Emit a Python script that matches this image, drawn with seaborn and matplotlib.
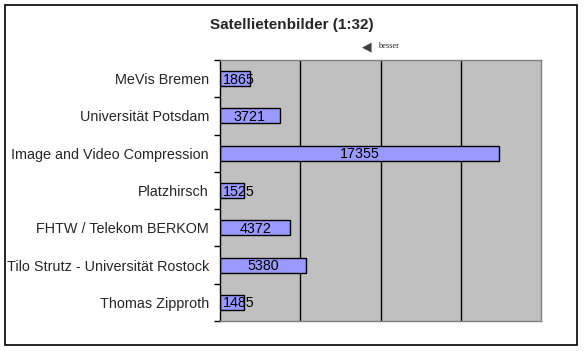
import numpy as np
import pandas as pd
import matplotlib
matplotlib.use("Agg")
import matplotlib.pyplot as plt
import seaborn as sns
from matplotlib.patches import Rectangle

sns.set_theme(style="white")
plt.rcParams['font.family'] = ['Liberation Sans', 'DejaVu Sans']

# Chart data
teams = ["MeVis Bremen", "Universität Potsdam", "Image and Video Compression",
         "Platzhirsch", "FHTW / Telekom BERKOM", "Tilo Strutz - Universität Rostock",
         "Thomas Zipproth"]
values = [1865, 3721, 17355, 1525, 4372, 5380, 1485]
grid_values = [5000, 10000, 15000]
data = pd.DataFrame({"team": teams, "value": values})

fig = plt.figure(figsize=(5.84, 3.51), dpi=100)
ax = fig.add_axes([220 / 584, 1 - 321 / 351, 321 / 584, 261 / 351])
ax.set_facecolor("#C0C0C0")

sns.barplot(data=data, x="value", y="team", orient="h", color="#9999FF",
            edgecolor="black", linewidth=1, width=0.4, saturation=1, ax=ax)
for p in ax.patches:
    p.set_facecolor("#9999FF")

for x in grid_values:
    ax.axvline(x, color="black", lw=1, zorder=0.5)

# value labels centred in bars (kept inside the plot area for short bars)
for i, v in enumerate(values):
    ax.text(max(v / 2, 1150), i + 0.03, str(v), ha="center", va="center",
            fontsize=10.3, color="black")

ax.set_xlim(0, 20000)
ax.set_ylim(len(teams) - 0.5, -0.5)
ax.set_xticks([])
ax.set_yticks(range(len(teams)))
ax.set_yticklabels(teams, fontsize=10.4)
ax.tick_params(axis="y", which="major", length=0, pad=8)
ax.set_yticks(np.arange(-0.5, len(teams)), minor=True)
ax.tick_params(axis="y", which="minor", length=4, width=1, color="black", left=True)
ax.set_xlabel("")
ax.set_ylabel("")

for side in ["top", "right", "bottom"]:
    ax.spines[side].set_color("#808080")
    ax.spines[side].set_linewidth(1)
ax.spines["left"].set_color("black")
ax.spines["left"].set_linewidth(1)

fig.text(0.5, 1 - 25 / 351, "Satellietenbilder (1:32)", ha="center", va="center",
         fontsize=11, fontweight="bold")

# "besser" marker
fig.text(367 / 584, 1 - 47 / 351, "\u25C0", ha="center", va="center",
         fontsize=9, color="#404040", family=["DejaVu Sans"])
fig.text(378 / 584, 1 - 46 / 351, "besser", ha="left", va="center",
         fontsize=6, family=["Liberation Serif", "DejaVu Serif"])

# outer chart border
fig.patches.append(Rectangle((5 / 584, 1 - 345 / 351), 572 / 584, 340 / 351,
                             transform=fig.transFigure, fill=False,
                             edgecolor="black", lw=1.2))

fig.savefig("out.png", dpi=100)
